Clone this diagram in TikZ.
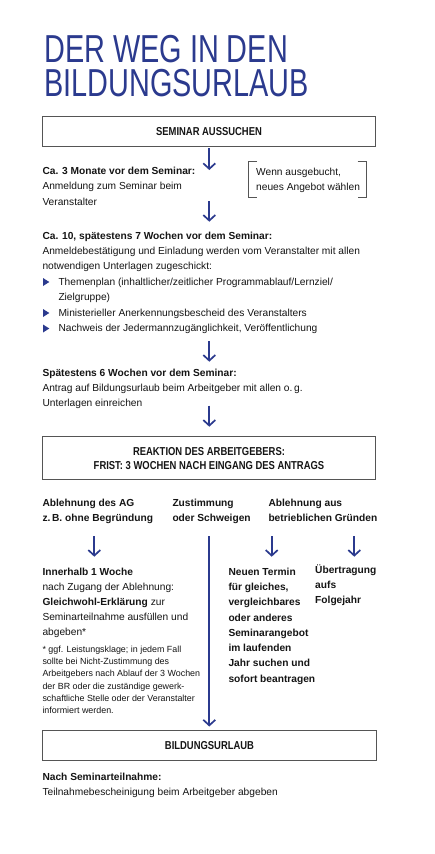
\documentclass[tikz,border=0pt]{standalone}
\usepackage{fontspec}
\setmainfont{Liberation Sans}
\newfontfamily\titlefont{Liberation Sans}[FakeStretch=0.74]
\newfontfamily\boxfont{Liberation Sans}[FakeStretch=0.82]
\usetikzlibrary{arrows.meta}
\definecolor{dblue}{HTML}{2B3A8E}
\definecolor{bgray}{HTML}{555555}
\definecolor{txt}{HTML}{151515}
\tikzset{
  x=1pt, y=-1pt,
  line/.style={anchor=base west, inner sep=0pt, text=txt, font=\fontsize{10.2}{15}\selectfont},
  bline/.style={line, font=\fontsize{10.2}{15}\selectfont\bfseries},
  fline/.style={line, font=\fontsize{8.9}{12}\selectfont},
  ttl/.style={anchor=north west, inner sep=0pt, text=dblue, font=\titlefont\fontsize{39}{34}\selectfont},
  stagebox/.style={draw=bgray, line width=0.9pt, inner sep=0pt},
  boxlabel/.style={anchor=base, inner sep=0pt, text=txt, font=\boxfont\fontsize{11.5}{14}\selectfont\bfseries},
  flow/.style={draw=dblue, line width=1.7pt, -{Straight Barb[length=5.5pt,width=12pt]}},
  bracket/.style={draw=bgray, line width=0.9pt},
  bullet/.style={fill=dblue, draw=none},
}
\begin{document}
\begin{tikzpicture}
\useasboundingbox (0,0) rectangle (434,854);
\fill[white] (0,0) rectangle (434,854);

% title
\node[ttl] (title) at (44,35) {\vbox{\baselineskip=34pt\lineskiplimit=-100pt\hbox{DER WEG IN DEN}\hbox{BILDUNGSURLAUB}}};

% box 1
\node[stagebox, minimum width=333.4pt, minimum height=30pt] (b1) at (209,131.3) {};
\node[boxlabel] (b1l) at (209,135.5) {SEMINAR AUSSUCHEN};

\coordinate (a1s) at (209.3,148.3);
\coordinate (a1e) at (209.3,170);
\draw[flow] (a1s) -- (a1e);

\node[bline] (s1a) at (42.3,174) {Ca. 3 Monate vor dem Seminar:};
\node[line] (s1b) at (42.3,189.5) {Anmeldung zum Seminar beim};
\node[line] (s1c) at (42.3,205) {Veranstalter};

% bracket note
\draw[bracket] (257,161) -- (248,161) -- (248,197) -- (257,197);
\draw[bracket] (357.5,161) -- (366,161) -- (366,197) -- (357.5,197);
\node[line] (n1) at (256,175.5) {Wenn ausgebucht,};
\node[line] (n2) at (256,190.5) {neues Angebot wählen};

\coordinate (a2s) at (209.3,201);
\coordinate (a2e) at (209.3,221.7);
\draw[flow] (a2s) -- (a2e);

\node[bline] (s2a) at (42.3,239) {Ca. 10, spätestens 7 Wochen vor dem Seminar:};
\node[line] (s2b) at (42.3,254.5) {Anmeldebestätigung und Einladung werden vom Veranstalter mit allen};
\node[line] (s2c) at (42.3,269.5) {notwendigen Unterlagen zugeschickt:};
\fill[bullet] (43,278) -- (49.3,282) -- (43,286) -- cycle;
\node[line] (s2d) at (58.3,285) {Themenplan (inhaltlicher/zeitlicher Programmablauf/Lernziel/};
\node[line] (s2e) at (58.3,300.3) {Zielgruppe)};
\fill[bullet] (43,309) -- (49.3,313) -- (43,317) -- cycle;
\node[line] (s2f) at (58.3,316) {Ministerieller Anerkennungsbescheid des Veranstalters};
\fill[bullet] (43,324.5) -- (49.3,328.5) -- (43,332.5) -- cycle;
\node[line] (s2g) at (58.3,331.5) {Nachweis der Jedermannzugänglichkeit, Veröffentlichung};

\coordinate (a3s) at (209.3,341);
\coordinate (a3e) at (209.3,361.7);
\draw[flow] (a3s) -- (a3e);

\node[bline] (s3a) at (42.3,376) {Spätestens 6 Wochen vor dem Seminar:};
\node[line] (s3b) at (42.3,391.5) {Antrag auf Bildungsurlaub beim Arbeitgeber mit allen o.\,g.};
\node[line] (s3c) at (42.3,406.5) {Unterlagen einreichen};

\coordinate (a4s) at (209.3,405.5);
\coordinate (a4e) at (209.3,426.7);
\draw[flow] (a4s) -- (a4e);

% box 2
\node[stagebox, minimum width=333.4pt, minimum height=43.3pt] (b2) at (209,457.7) {};
\node[boxlabel] (b2l1) at (209,455) {REAKTION DES ARBEITGEBERS:};
\node[boxlabel] (b2l2) at (209,469.5) {FRIST: 3 WOCHEN NACH EINGANG DES ANTRAGS};

% column headings
\node[bline] (h1a) at (42.3,506) {Ablehnung des AG};
\node[bline] (h1b) at (42.3,521) {z.\,B. ohne Begründung};
\node[bline] (h2a) at (172.3,506) {Zustimmung};
\node[bline] (h2b) at (172.3,521) {oder Schweigen};
\node[bline] (h3a) at (268.3,506) {Ablehnung aus};
\node[bline] (h3b) at (268.3,521) {betrieblichen Gründen};

\coordinate (c1s) at (94.3,536);
\coordinate (c1e) at (94.3,556.7);
\coordinate (c3s) at (271.7,536);
\coordinate (c3e) at (271.7,556.7);
\coordinate (c4s) at (354.3,536);
\coordinate (c4e) at (354.3,556.7);
\coordinate (c2s) at (209.3,536);
\coordinate (c2e) at (209.3,726.5);
\draw[flow] (c1s) -- (c1e);
\draw[flow] (c3s) -- (c3e);
\draw[flow] (c4s) -- (c4e);
\draw[flow] (c2s) -- (c2e);

% column 1
\node[bline] (k1a) at (42.3,575) {Innerhalb 1 Woche};
\node[line] (k1b) at (42.3,590.5) {nach Zugang der Ablehnung:};
\node[line] (k1c) at (42.3,605.7) {{\bfseries Gleichwohl-Erklärung} zur};
\node[line] (k1d) at (42.3,620.7) {Seminarteilnahme ausfüllen und};
\node[line] (k1e) at (42.3,635.5) {abgeben*};
\node[fline] (f1) at (42.3,652) {* ggf. Leistungsklage; in jedem Fall};
\node[fline] (f2) at (42.3,664.3) {sollte bei Nicht-Zustimmung des};
\node[fline] (f3) at (42.3,676.6) {Arbeitgebers nach Ablauf der 3 Wochen};
\node[fline] (f4) at (42.3,689) {der BR oder die zuständige gewerk-};
\node[fline] (f5) at (42.3,701.3) {schaftliche Stelle oder der Veranstalter};
\node[fline] (f6) at (42.3,713.6) {informiert werden.};

% column 3
\node[bline] (k3a) at (228.3,575) {Neuen Termin};
\node[bline] (k3b) at (228.3,590.3) {für gleiches,};
\node[bline] (k3c) at (228.3,605.6) {vergleichbares};
\node[bline] (k3d) at (228.3,621) {oder anderes};
\node[bline] (k3e) at (228.3,636.2) {Seminarangebot};
\node[bline] (k3f) at (228.3,651.5) {im laufenden};
\node[bline] (k3g) at (228.3,666.8) {Jahr suchen und};
\node[bline] (k3h) at (228.3,682) {sofort beantragen};

% column 4
\node[bline] (k4a) at (315,573.3) {Übertragung};
\node[bline] (k4b) at (315,588.3) {aufs};
\node[bline] (k4c) at (315,603.3) {Folgejahr};

% box 3
\node[stagebox, minimum width=334.4pt, minimum height=30pt] (b3) at (209.5,745.7) {};
\node[boxlabel] (b3l) at (209.5,749.3) {BILDUNGSURLAUB};

\node[bline] (e1) at (42.3,780) {Nach Seminarteilnahme:};
\node[line] (e2) at (42.3,795) {Teilnahmebescheinigung beim Arbeitgeber abgeben};
\end{tikzpicture}
\end{document}
